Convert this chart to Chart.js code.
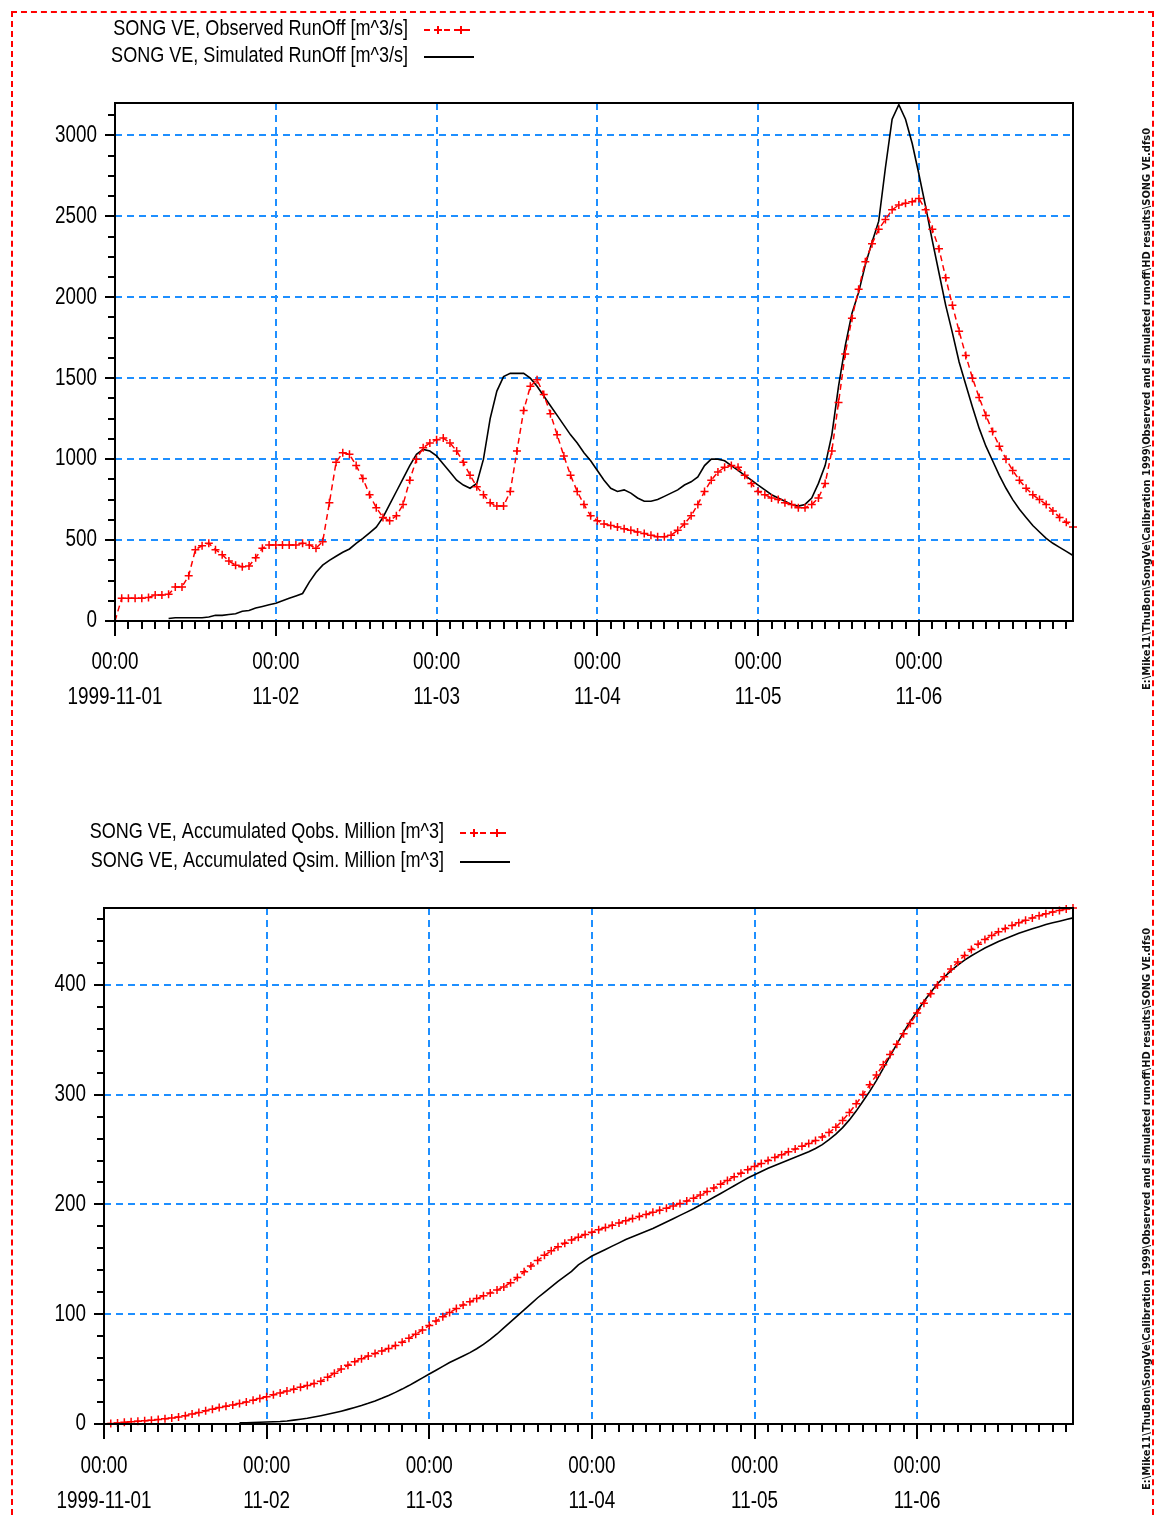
<!DOCTYPE html>
<html>
<head>
<meta charset="utf-8">
<script src="https://cdn.jsdelivr.net/npm/chart.js@4.4.1/dist/chart.umd.min.js"></script>
<style>
  html, body { margin: 0; padding: 0; background: #fff; width: 1156px; height: 1519px; overflow: hidden; }
  #frame { position: absolute; left: 11px; top: 11px; width: 1139px; height: 1580px; border: 2px dashed #ff0000; }
  canvas { position: absolute; left: 0; }
  #c1 { top: 0; }
  #c2 { top: 740px; }
  .side { position: absolute; left: 1140px; width: 13px; writing-mode: vertical-rl; transform: rotate(180deg);
          font: bold 11px 'DejaVu Sans Condensed', 'DejaVu Sans', sans-serif; line-height: 13px;
          white-space: nowrap; overflow: hidden; color: #111; }
</style>
</head>
<body>
<div id="frame"></div>
<canvas id="c1" width="1156" height="740"></canvas>
<canvas id="c2" width="1156" height="779"></canvas>
<div class="side" style="top:100px;height:590px;">E:\Mike11\ThuBon\SongVe\Calibration 1999\Observed and simulated runoff\HD results\SONG VE.dfs0</div>
<div class="side" style="top:905px;height:585px;">E:\Mike11\ThuBon\SongVe\Calibration 1999\Observed and simulated runoff\HD results\SONG VE.dfs0</div>
<script>
const FONT = "'Liberation Sans', Arial, sans-serif";
const SQUEEZE = 0.82; // narrow text look of the original print

// hourly steps from 1999-11-01 00:00
const hours = [];
for (let h = 0; h < 144; h++) hours.push(h);

const dayTicks = [0, 24, 48, 72, 96, 120];
const dayLabels = ['1999-11-01', '11-02', '11-03', '11-04', '11-05', '11-06'];
const timeLabel = '00:00';
const flowTicks = [0, 500, 1000, 1500, 2000, 2500, 3000];
const accTicks = [0, 100, 200, 300, 400];

// runoff [m^3/s]
const obsFlow = [
  0, 140, 140, 140, 140, 145, 160, 160, 165, 210,
  210, 280, 440, 465, 480, 440, 410, 370, 345, 335,
  340, 390, 450, 470, 470, 470, 470, 470, 480, 470,
  450, 490, 730, 980, 1040, 1030, 960, 880, 780, 700,
  640, 620, 650, 720, 870, 1000, 1070, 1100, 1120, 1130,
  1100, 1050, 980, 900, 830, 780, 730, 710, 710, 800,
  1050, 1300, 1450, 1490, 1400, 1280, 1150, 1020, 900, 800,
  720, 650, 620, 600, 590, 580, 570, 560, 550, 540,
  530, 520, 520, 530, 560, 600, 650, 720, 800, 870,
  920, 950, 960, 950, 900, 850, 800, 780, 760, 750,
  730, 720, 700, 700, 720, 760, 850, 1050, 1350, 1650,
  1870, 2050, 2220, 2330, 2420, 2480, 2540, 2570, 2580, 2590,
  2610, 2540, 2420, 2300, 2120, 1950, 1790, 1640, 1500, 1380,
  1270, 1170, 1080, 1000, 930, 870, 820, 780, 750, 720,
  680, 640, 610, 580
];
const simFlow = [
  null, null, null, null, null, null, null, null, 15, 20,
  20, 20, 20, 20, 25, 35, 35, 40, 45, 60,
  65, 80, 90, 100, 110, 125, 140, 155, 170, 240,
  300, 345, 375, 400, 425, 445, 480, 510, 545, 580,
  640, 720, 800, 880, 960, 1030, 1060, 1050, 1020, 970,
  920, 870, 840, 820, 850, 1000, 1250, 1420, 1510, 1530,
  1530, 1530, 1500, 1450, 1390, 1330, 1270, 1210, 1150, 1100,
  1040, 990, 930, 870, 820, 800, 810, 790, 760, 740,
  740, 750, 770, 790, 810, 840, 860, 890, 960, 1000,
  1000, 990, 960, 930, 900, 870, 840, 810, 780, 760,
  740, 720, 710, 720, 760, 850, 960, 1150, 1450, 1700,
  1900, 2030, 2200, 2340, 2470, 2800, 3100, 3190, 3100, 2950,
  2760, 2560, 2350, 2150, 1950, 1780, 1600, 1460, 1320, 1190,
  1080, 990, 900, 820, 750, 690, 640, 590, 550, 510,
  480, 455, 430, 405
];

// accumulated volume [million m^3]
const obsAcc = [
  0, 0.5, 1, 1.5, 2, 2.5, 3, 3.5, 4, 4.8,
  5.5, 6.3, 7.5, 9, 10.5, 12, 13.5, 15, 16.2, 17.4,
  18.6, 20, 21.6, 23.2, 24.9, 26.6, 28.3, 30, 31.7, 33.4,
  35, 36.8, 39, 42.5, 46.2, 50, 53.5, 56.7, 59.5, 62,
  64.3, 66.5, 68.8, 71.4, 74.5, 78, 81.8, 85.7, 89.7, 93.8,
  97.8, 101.6, 105.1, 108.4, 111.4, 114.2, 116.8, 119.4, 122, 124.9,
  128.7, 133.4, 138.6, 144, 149, 153.6, 157.8, 161.5, 164.7, 167.6,
  170.2, 172.5, 174.7, 176.9, 179, 181.1, 183.1, 185.1, 187.1, 189,
  190.9, 192.8, 194.7, 196.6, 198.6, 200.8, 203.1, 205.7, 208.6, 211.7,
  215, 218.4, 221.9, 225.3, 228.5, 231.6, 234.5, 237.3, 240, 242.7,
  245.3, 247.9, 250.4, 252.9, 255.5, 258.3, 261.5, 265.4, 270.4, 276.5,
  283.7, 291.6, 300.1, 308.9, 318, 327.3, 336.6, 346, 355.4, 364.9,
  374.3, 383.3, 391.8, 399.8, 407.4, 414.4, 420.9, 426.8, 432.2, 437,
  441.3, 445, 448.3, 451.3, 454, 456.5, 458.8, 461, 463, 464.8,
  466.4, 467.8, 469, 470
];
const simAcc = [
  null, null, null, null, null, null, null, null, null, null,
  null, null, null, null, null, null, null, null, null, null,
  1, 1.2, 1.4, 1.6, 1.8, 2, 2.3, 2.8, 3.5, 4.3,
  5.2, 6.3, 7.5, 8.8, 10.2, 11.7, 13.3, 15, 16.8, 18.8,
  21, 23.4, 26, 28.8, 31.8, 35, 38.5, 42, 45.5, 49,
  52.5, 56, 59, 62, 65, 68.5, 72.5, 77, 82, 87.5,
  93, 98.5, 104, 109.5, 115, 120, 125, 130, 134.5, 139,
  145, 149, 153, 156, 159, 162, 165, 168, 170.5, 173,
  175.5, 178, 181, 184, 187, 190, 193, 196, 199.5, 203,
  206.5, 210, 213.5, 217, 220.5, 224, 227, 230, 233, 235.5,
  238, 240.5, 243, 245.5, 248, 251, 254.5, 259, 264, 270,
  277, 285, 294, 303, 313, 324, 335, 346, 357, 367,
  376, 385, 393, 401, 407, 413, 418, 422.5, 426.5, 430,
  433.5, 436.5, 439.5, 442, 444.5, 447, 449, 451, 453, 455,
  456.5, 458, 459.5, 461
];

const toPoints = arr => arr.map((v, i) => ({ x: hours[i], y: v }));

Chart.defaults.font.family = FONT;
Chart.defaults.color = '#000';

const GRID_BLUE = '#1e8fff';

function narrowText(ctx, text, x, y, align) {
  ctx.save();
  ctx.translate(x, y);
  ctx.scale(SQUEEZE, 1);
  ctx.textAlign = align;
  ctx.fillText(text, 0, 0);
  ctx.restore();
}

// frame, major/minor tick marks and tick labels
const axisTicks = {
  id: 'axisTicks',
  afterDraw(chart, args, opts) {
    const { ctx, chartArea: a, scales: { x, y } } = chart;
    ctx.save();
    ctx.strokeStyle = '#000';
    ctx.lineWidth = 2;
    ctx.strokeRect(a.left, a.top, a.right - a.left, a.bottom - a.top);
    ctx.beginPath();
    for (let h = 0; h <= x.max; h += 2) {
      const px = Math.round(x.getPixelForValue(h));
      const len = h % 24 === 0 ? 15 : 8;
      ctx.moveTo(px, a.bottom);
      ctx.lineTo(px, a.bottom + len);
    }
    for (let v = 0; v <= y.max; v += opts.minor) {
      const py = Math.round(y.getPixelForValue(v));
      const len = v % opts.major === 0 ? 10 : 7;
      ctx.moveTo(a.left, py);
      ctx.lineTo(a.left - len, py);
    }
    ctx.stroke();

    ctx.fillStyle = '#000';
    ctx.font = '23px ' + FONT;
    ctx.textBaseline = 'middle';
    dayTicks.forEach((h, i) => {
      const px = x.getPixelForValue(h);
      narrowText(ctx, timeLabel, px, a.bottom + opts.line1, 'center');
      narrowText(ctx, dayLabels[i], px, a.bottom + opts.line1 + 35, 'center');
    });
    opts.ticks.forEach(v => {
      narrowText(ctx, String(v), a.left - 18, y.getPixelForValue(v), 'right');
    });
    ctx.restore();
  }
};

// legend: label text, then a line sample on its right
const sampleLegend = {
  id: 'sampleLegend',
  afterDraw(chart, args, opts) {
    const ctx = chart.ctx;
    ctx.save();
    ctx.font = '22px ' + FONT;
    ctx.textBaseline = 'middle';
    chart.data.datasets.forEach((ds, i) => {
      const y = opts.y + i * opts.dy;
      ctx.fillStyle = '#000';
      narrowText(ctx, ds.label, opts.x, y, 'right');
      ctx.strokeStyle = ds.borderColor;
      ctx.lineWidth = 2;
      ctx.setLineDash(ds.borderDash || []);
      ctx.beginPath();
      ctx.moveTo(opts.x + 16, y + 1);
      ctx.lineTo(opts.x + 66, y + 1);
      ctx.stroke();
      ctx.setLineDash([]);
      if (ds.pointStyle === 'cross') {
        [opts.x + 30, opts.x + 53].forEach(cx => {
          ctx.beginPath();
          ctx.moveTo(cx - 4, y + 1); ctx.lineTo(cx + 4, y + 1);
          ctx.moveTo(cx, y - 3); ctx.lineTo(cx, y + 5);
          ctx.stroke();
        });
      }
    });
    ctx.restore();
  }
};

function obsDataset(label, values) {
  return {
    label: label,
    data: toPoints(values),
    borderColor: '#ff0000',
    borderWidth: 1.5,
    borderDash: [6, 4],
    pointStyle: 'cross',
    pointRadius: 4,
    pointBorderWidth: 1.5,
    pointBorderColor: '#ff0000',
    pointBackgroundColor: '#ff0000',
    clip: false,
    order: 1
  };
}

function simDataset(label, values) {
  return {
    label: label,
    data: toPoints(values),
    borderColor: '#000000',
    borderWidth: 1.6,
    pointRadius: 0,
    clip: false,
    order: 2
  };
}

function makeChart(id, cfg) {
  return new Chart(document.getElementById(id), {
    type: 'line',
    data: { datasets: cfg.datasets },
    plugins: [axisTicks, sampleLegend],
    options: {
      responsive: false,
      animation: false,
      devicePixelRatio: 1,
      layout: { padding: { left: 0, right: cfg.right, top: cfg.top, bottom: 0 } },
      plugins: {
        legend: { display: false },
        tooltip: { enabled: false },
        axisTicks: { minor: cfg.minor, major: cfg.ticks[1], ticks: cfg.ticks, line1: cfg.line1 },
        sampleLegend: cfg.legend
      },
      scales: {
        x: {
          type: 'linear',
          min: 0,
          max: 143,
          afterBuildTicks: s => { s.ticks = dayTicks.map(v => ({ value: v })); },
          afterFit: s => { s.height = cfg.xHeight; },
          grid: {
            drawTicks: false,
            lineWidth: 2,
            color: c => (c.tick && c.tick.value > 0 ? GRID_BLUE : 'rgba(0,0,0,0)')
          },
          border: { display: false, dash: [7, 5] },
          ticks: { display: false }
        },
        y: {
          min: 0,
          max: cfg.yMax,
          afterBuildTicks: s => { s.ticks = cfg.ticks.map(v => ({ value: v })); },
          afterFit: s => { s.width = cfg.left; },
          grid: {
            drawTicks: false,
            lineWidth: 2,
            color: c => (c.tick && c.tick.value > 0 ? GRID_BLUE : 'rgba(0,0,0,0)')
          },
          border: { display: false, dash: [7, 5] },
          ticks: { display: false }
        }
      }
    }
  });
}

makeChart('c1', {
  datasets: [
    obsDataset('SONG VE, Observed RunOff [m^3/s]', obsFlow),
    simDataset('SONG VE, Simulated RunOff [m^3/s]', simFlow)
  ],
  left: 115, right: 83, top: 103, xHeight: 119,
  yMax: 3200, ticks: flowTicks, minor: 125, line1: 42,
  legend: { x: 408, y: 29, dy: 27 }
});

makeChart('c2', {
  datasets: [
    obsDataset('SONG VE, Accumulated Qobs. Million [m^3]', obsAcc),
    simDataset('SONG VE, Accumulated Qsim. Million [m^3]', simAcc)
  ],
  left: 104, right: 83, top: 168, xHeight: 95,
  yMax: 470, ticks: accTicks, minor: 20, line1: 43,
  legend: { x: 444, y: 92, dy: 29 }
});
</script>
</body>
</html>
